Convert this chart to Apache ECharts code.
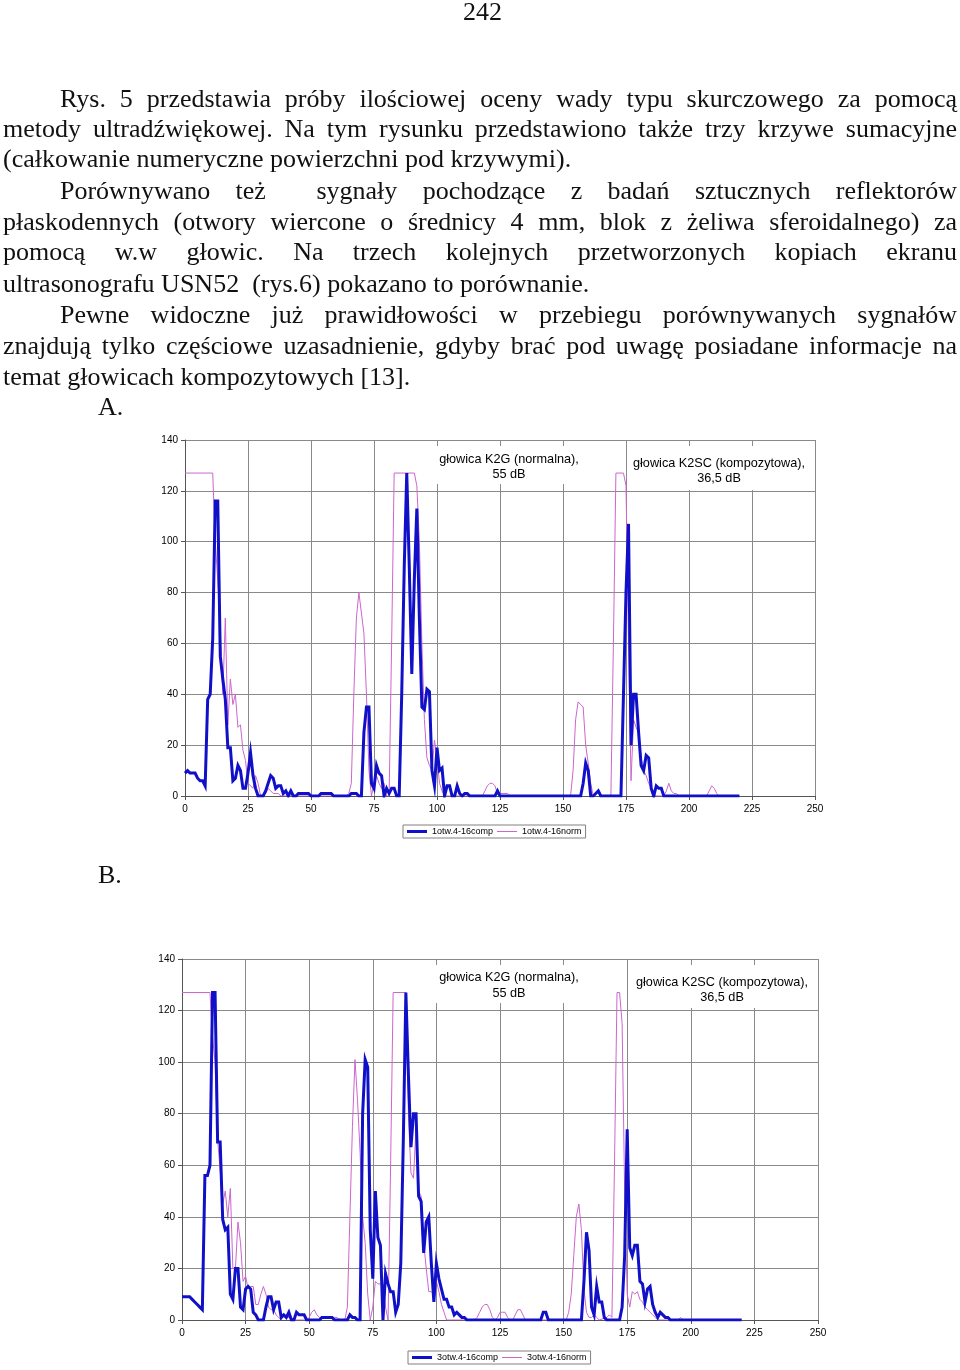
<!DOCTYPE html>
<html>
<head>
<meta charset="utf-8">
<script src="https://cdn.jsdelivr.net/npm/echarts@6/dist/echarts.min.js"></script>
<style>
  html, body { margin:0; padding:0; background:#fff; }
  #page { position:relative; width:960px; height:1370px; overflow:hidden; }
  #chart { position:absolute; left:0; top:0; width:960px; height:1370px; }
  .ln { position:absolute; left:3px; width:954px; font-family:"Liberation Serif","DejaVu Serif",serif; font-size:26px; line-height:30px; color:#111; white-space:nowrap; text-align:justify; text-align-last:justify; z-index:2; }
  .ind { left:60px; width:897px; }
  .last { text-align-last:left; }
  .lab { position:absolute; font-family:"Liberation Serif",serif; font-size:26px; line-height:30px; color:#111; z-index:2; }
</style>
</head>
<body>
<div id="page">
  <div id="chart"></div>
  <div class="lab" style="left:463px;top:-3px;">242</div>
  <div class="ln ind" style="top:84px;">Rys. 5 przedstawia próby ilościowej oceny wady typu skurczowego za pomocą</div>
  <div class="ln" style="top:114px;">metody ultradźwiękowej. Na tym rysunku przedstawiono także trzy krzywe sumacyjne</div>
  <div class="ln last" style="top:144px;">(całkowanie numeryczne powierzchni pod krzywymi).</div>
  <div class="ln ind" style="top:176px;">Porównywano też&nbsp; sygnały pochodzące z badań sztucznych reflektorów</div>
  <div class="ln" style="top:207px;">płaskodennych (otwory wiercone o średnicy 4 mm, blok z żeliwa sferoidalnego) za</div>
  <div class="ln" style="top:237px;">pomocą w.w głowic. Na trzech kolejnych przetworzonych kopiach ekranu</div>
  <div class="ln last" style="top:269px;">ultrasonografu USN52&nbsp; (rys.6) pokazano to porównanie.</div>
  <div class="ln ind" style="top:300px;">Pewne widoczne już prawidłowości w przebiegu porównywanych sygnałów</div>
  <div class="ln" style="top:331px;">znajdują tylko częściowe uzasadnienie, gdyby brać pod uwagę posiadane informacje na</div>
  <div class="ln last" style="top:362px;">temat głowicach kompozytowych [13].</div>
  <div class="lab" style="left:98px;top:392px;">A.</div>
  <div class="lab" style="left:98px;top:860px;">B.</div>
</div>
<script>
// ---------------- data ----------------
const xTicks = [0, 25, 50, 75, 100, 125, 150, 175, 200, 225, 250];
const yTicks = [0, 20, 40, 60, 80, 100, 120, 140];

const seriesNamesA = ["1otw.4-16comp", "1otw.4-16norm"];
const seriesNamesB = ["3otw.4-16comp", "3otw.4-16norm"];

const labelK2G = ["głowica K2G (normalna),", "55 dB"];
const labelK2SC = ["głowica K2SC (kompozytowa),", "36,5 dB"];

const compA = [[0,9],[1,10],[2,9],[3,9],[4,9],[5,7],[6,6],[7,6],[8,4],[9,38],[10,40],[11,62],[12,116],[13,116],[14,55],[15,46],[16,38],[17,19],[18,19],[19,6],[20,7],[21,12],[22,10],[23,3],[24,3],[25,9],[26,17],[27,8],[28,3],[29,0],[30,0],[31,0],[32,2],[33,5],[34,8],[35,7],[36,3],[37,4],[38,4],[39,1],[40,2],[41,0],[42,2],[43,0],[44,0],[45,1],[46,1],[47,1],[48,1],[49,1],[50,0],[53,0],[54,1],[55,1],[56,1],[57,1],[58,1],[59,0],[65,0],[66,1],[67,1],[68,1],[69,0],[70,0],[71,25],[72,35],[73,35],[74,5],[75,3],[76,12],[77,9],[78,8],[79,0],[80,3],[81,1],[82,3],[83,3],[84,0],[85,0],[86,40],[87,90],[88,127],[89,90],[90,48],[91,85],[92,113],[93,70],[94,35],[95,34],[96,42],[97,41],[98,10],[99,4],[100,19],[101,10],[102,11],[103,0],[104,4],[105,4],[106,0],[107,0],[108,4],[109,1],[110,0],[111,1],[112,1],[113,0],[123,0],[124,2],[125,0],[157,0],[158,5],[159,13],[160,10],[161,0],[162,0],[163,1],[164,2],[165,0],[173,0],[174,40],[175,80],[176,107],[177,20],[178,40],[179,40],[180,25],[181,12],[182,10],[183,16],[184,15],[185,3],[186,0],[187,4],[188,3],[189,3],[190,0],[220,0]];

const normA = [[0,127],[11,127],[12,100],[13,85],[14,65],[15,40],[16,70],[17,28],[18,46],[19,36],[20,40],[21,27],[22,28],[23,18],[24,14],[25,5],[26,4],[27,3],[28,8],[29,5],[30,0],[31,0],[32,1],[33,3],[34,2],[35,1],[36,1],[37,1],[38,0],[64,0],[65,1],[66,5],[67,40],[68,70],[69,80],[70,72],[71,64],[72,40],[73,10],[74,0],[75,5],[76,8],[77,5],[78,3],[79,5],[80,0],[81,0],[82,60],[83,127],[91,127],[92,122],[93,100],[94,60],[95,30],[96,15],[97,12],[98,10],[99,22],[100,15],[101,5],[102,2],[103,0],[118,0],[119,2],[120,4],[121,5],[122,5],[123,4],[124,1],[128,1],[129,0],[153,0],[154,10],[155,30],[156,37],[157,36],[158,35],[159,20],[160,13],[161,5],[162,0],[163,1],[164,2],[165,0],[169,0],[170,60],[171,127],[174,127],[175,122],[176,60],[177,6],[178,30],[179,27],[180,25],[181,15],[182,10],[183,8],[184,5],[185,3],[186,1],[187,0],[190,0],[191,2],[192,5],[193,2],[194,1],[195,1],[196,0],[207,0],[208,2],[209,4],[210,3],[211,1],[212,0],[220,0]];

const compB = [[0,9],[3,9],[4,8],[5,7],[6,6],[7,5],[8,4],[9,56],[10,56],[11,60],[12,127],[13,127],[14,69],[15,69],[16,39],[17,35],[18,36],[19,10],[20,8],[21,20],[22,20],[23,5],[24,4],[25,12],[26,13],[27,12],[28,3],[29,2],[30,0],[31,0],[32,0],[33,5],[34,9],[35,9],[36,4],[37,7],[38,7],[39,1],[40,2],[41,1],[42,3],[43,0],[44,0],[45,3],[46,2],[47,2],[48,2],[49,0],[54,0],[55,1],[56,1],[57,1],[58,1],[59,1],[60,0],[65,0],[66,2],[67,1],[68,1],[69,0],[70,0],[71,80],[72,101],[73,98],[74,35],[75,16],[76,50],[77,32],[78,29],[79,0],[80,18],[81,14],[82,11],[83,11],[84,3],[85,6],[86,22],[87,70],[88,127],[89,95],[90,67],[91,80],[92,80],[93,48],[94,46],[95,26],[96,38],[97,40],[98,22],[99,7],[100,22],[101,16],[102,12],[103,8],[104,8],[105,5],[106,5],[107,2],[108,3],[109,2],[110,1],[111,1],[112,0],[141,0],[142,3],[143,3],[144,0],[157,0],[158,15],[159,34],[160,27],[161,5],[162,2],[163,13],[164,7],[165,7],[166,1],[167,0],[172,0],[173,5],[174,25],[175,74],[176,28],[177,25],[178,29],[179,29],[180,15],[181,14],[182,7],[183,12],[184,13],[185,6],[186,3],[187,1],[188,3],[189,2],[190,1],[191,1],[192,0],[220,0]];

const normB = [[0,127],[11,127],[12,110],[13,100],[14,70],[15,58],[16,45],[17,50],[18,40],[19,51],[20,20],[21,20],[22,38],[23,30],[24,15],[25,17],[26,12],[27,13],[28,13],[29,6],[30,6],[31,10],[32,13],[33,10],[34,5],[35,4],[36,4],[37,2],[38,1],[39,0],[40,2],[41,1],[42,1],[43,1],[44,0],[49,0],[50,1],[51,3],[52,4],[53,2],[54,1],[55,1],[60,1],[61,1],[62,0],[64,0],[65,5],[66,40],[67,75],[68,101],[69,85],[70,65],[71,40],[72,30],[73,10],[74,0],[75,5],[76,15],[77,14],[78,14],[79,14],[80,5],[81,0],[82,60],[83,127],[88,127],[89,80],[90,57],[91,55],[92,75],[93,50],[94,48],[95,30],[96,20],[97,11],[98,11],[99,10],[100,15],[101,11],[102,6],[103,3],[104,0],[115,0],[116,1],[117,3],[118,5],[119,6],[120,6],[121,4],[122,1],[123,0],[124,1],[125,3],[126,3],[127,3],[128,1],[129,0],[130,0],[131,2],[132,4],[133,4],[134,2],[135,0],[151,0],[152,3],[153,10],[154,25],[155,40],[156,45],[157,35],[158,12],[159,3],[160,1],[161,1],[162,2],[163,1],[164,0],[167,1],[168,2],[169,1],[170,60],[171,127],[172,127],[173,115],[174,50],[175,10],[176,5],[177,11],[178,10],[179,11],[180,8],[181,7],[182,5],[183,4],[184,3],[185,2],[186,1],[187,0],[195,0],[196,1],[197,0],[220,0]];

// ---------------- chart ----------------
const COMP_COLOR = '#1010c8';
const NORM_COLOR = '#cc66cc';
const GRID_COLOR = '#8a8a8a';
const AXIS_COLOR = '#555';

function xAxisFor(gi) {
  return {
    type: 'value', gridIndex: gi, min: xTicks[0], max: xTicks[xTicks.length - 1], interval: xTicks[1] - xTicks[0],
    axisLine: { show: true, onZero: false, lineStyle: { color: AXIS_COLOR, width: 1 } },
    axisTick: { show: true, length: 4, lineStyle: { color: AXIS_COLOR } },
    axisLabel: { fontSize: 10, color: '#000', margin: 8, fontFamily: 'Liberation Sans, Arial' },
    splitLine: { show: true, lineStyle: { color: GRID_COLOR, width: 1 } }
  };
}
function yAxisFor(gi) {
  return {
    type: 'value', gridIndex: gi, min: yTicks[0], max: yTicks[yTicks.length - 1], interval: yTicks[1] - yTicks[0],
    axisLine: { show: true, lineStyle: { color: AXIS_COLOR, width: 1 } },
    axisTick: { show: true, length: 4, lineStyle: { color: AXIS_COLOR } },
    axisLabel: { fontSize: 10, color: '#000', margin: 7, fontFamily: 'Liberation Sans, Arial' },
    splitLine: { show: true, lineStyle: { color: GRID_COLOR, width: 1 } }
  };
}
function lineSeries(name, data, gi, isComp) {
  return {
    type: 'line', name: name, data: data, xAxisIndex: gi, yAxisIndex: gi,
    symbol: 'none', showSymbol: false, smooth: false, z: isComp ? 4 : 3,
    lineStyle: { color: isComp ? COMP_COLOR : NORM_COLOR, width: isComp ? 3 : 1, join: 'miter' },
    itemStyle: { color: isComp ? COMP_COLOR : NORM_COLOR },
    emphasis: { disabled: true }
  };
}
function legendFor(names, left, top) {
  return {
    show: true, left: left, top: top, orient: 'horizontal', padding: [2, 4, 2, 4], itemGap: 4,
    itemWidth: 20, itemHeight: 8, symbolKeepAspect: true,
    borderColor: '#808080', borderWidth: 1, backgroundColor: '#fff',
    selectedMode: false,
    textStyle: { fontSize: 9, color: '#000', fontFamily: 'Liberation Sans, Arial' },
    data: [
      { name: names[0], icon: 'path://M0,0H20V3H0Z', itemStyle: { color: COMP_COLOR } },
      { name: names[1], icon: 'path://M0,0H20V1H0Z', itemStyle: { color: NORM_COLOR } }
    ]
  };
}
function annot(x1, x2, y1, y2, cx, ly1, ly2, lines) {
  return [
    { type: 'rect', z: 1, silent: true, shape: { x: x1, y: y1, width: x2 - x1, height: y2 - y1 }, style: { fill: '#fff' } },
    { type: 'text', z: 1, silent: true, x: cx, y: ly1, style: { text: lines[0], fill: '#000', font: '12.7px "Liberation Sans", Arial', align: 'center', verticalAlign: 'middle' } },
    { type: 'text', z: 1, silent: true, x: cx, y: ly2, style: { text: lines[1], fill: '#000', font: '12.7px "Liberation Sans", Arial', align: 'center', verticalAlign: 'middle' } }
  ];
}

const chart = echarts.init(document.getElementById('chart'), null, { renderer: 'canvas' });
chart.setOption({
  backgroundColor: '#fff',
  animation: false,
  grid: [
    { left: 185, top: 440, width: 630, height: 356 },
    { left: 182, top: 959, width: 636, height: 361 }
  ],
  xAxis: [xAxisFor(0), xAxisFor(1)],
  yAxis: [yAxisFor(0), yAxisFor(1)],
  legend: [legendFor(seriesNamesA, 403, 825), legendFor(seriesNamesB, 408, 1351)],
  graphic: [].concat(
    annot(430, 612, 446, 484, 509, 459, 474, labelK2G),
    annot(628, 811, 446, 490, 719, 463, 478, labelK2SC),
    annot(430, 614, 965, 1003, 509, 977, 993, labelK2G),
    annot(630, 815, 965, 1008, 722, 982, 997, labelK2SC)
  ),
  series: [
    lineSeries(seriesNamesA[1], normA, 0, false),
    lineSeries(seriesNamesA[0], compA, 0, true),
    lineSeries(seriesNamesB[1], normB, 1, false),
    lineSeries(seriesNamesB[0], compB, 1, true)
  ]
});
</script>
</body>
</html>
